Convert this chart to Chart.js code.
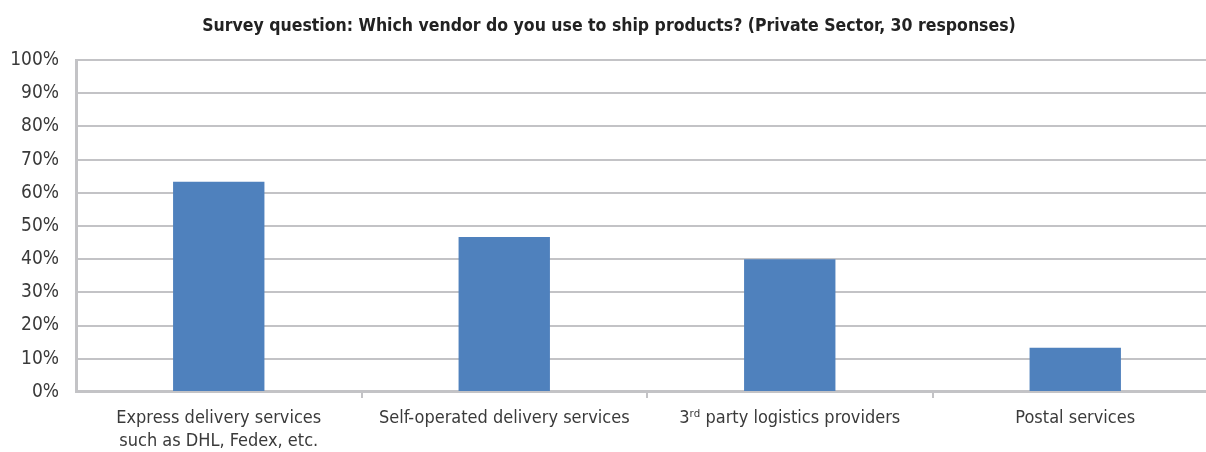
<!DOCTYPE html>
<html>
<head>
<meta charset="utf-8">
<script src="https://cdn.jsdelivr.net/npm/chart.js@4.4.1/dist/chart.umd.min.js"></script>
<style>
  html, body { margin: 0; padding: 0; background: #fff; overflow: hidden; }
  #wrap { position: relative; width: 1218px; height: 452px; }
</style>
</head>
<body>
<div id="wrap"><canvas id="shipChart"></canvas></div>
<script>
// Datos de la encuesta (porcentaje de respuestas)
const categories = [
  ["Express delivery services", "such as DHL, Fedex, etc."],
  "Self-operated delivery services",
  "3\u02B3\u1D48 party logistics providers",
  "Postal services"
];
const shares = [63.3, 46.7, 40.0, 13.3];
const yTicks = [0, 10, 20, 30, 40, 50, 60, 70, 80, 90, 100];

const FONT = "'Liberation Sans Narrow', 'DejaVu Sans Condensed', 'Liberation Sans', sans-serif";
const GRID = "#c3c3c6";

new Chart(document.getElementById("shipChart"), {
  type: "bar",
  data: {
    labels: categories,
    datasets: [{
      data: shares,
      backgroundColor: "#4f81bd",
      barPercentage: 0.32,
      categoryPercentage: 1
    }]
  },
  options: {
    responsive: true,
    maintainAspectRatio: false,
    animation: false,
    layout: { padding: { bottom: -9 } },
    plugins: {
      legend: { display: false },
      tooltip: { enabled: false },
      title: {
        display: true,
        text: "Survey question: Which vendor do you use to ship products? (Private Sector, 30 responses)",
        color: "#222",
        font: { family: FONT, size: 17.5, weight: "bold" },
        padding: { top: 16, bottom: 23 }
      }
    },
    scales: {
      x: {
        grid: {
          drawOnChartArea: false,
          tickLength: 6,
          lineWidth: 2,
          // sin marca en la esquina izquierda
          color: (ctx) => (ctx.index === 0 ? "rgba(0,0,0,0)" : GRID)
        },
        border: { color: GRID, width: 3 },
        ticks: {
          color: "#3a3a3a",
          font: { family: FONT, size: 18, lineHeight: 1.28 },
          padding: 8.5,
          maxRotation: 0,
          autoSkip: false
        }
      },
      y: {
        min: 0,
        max: 100,
        afterFit: (scale) => { scale.width = 76; },
        afterBuildTicks: (scale) => { scale.ticks = yTicks.map((v) => ({ value: v })); },
        grid: { color: GRID, lineWidth: 2, drawTicks: false },
        border: { color: GRID, width: 3 },
        ticks: {
          color: "#3a3a3a",
          font: { family: FONT, size: 19 },
          padding: 17,
          callback: (v) => v + "%"
        }
      }
    }
  }
});
</script>
</body>
</html>
